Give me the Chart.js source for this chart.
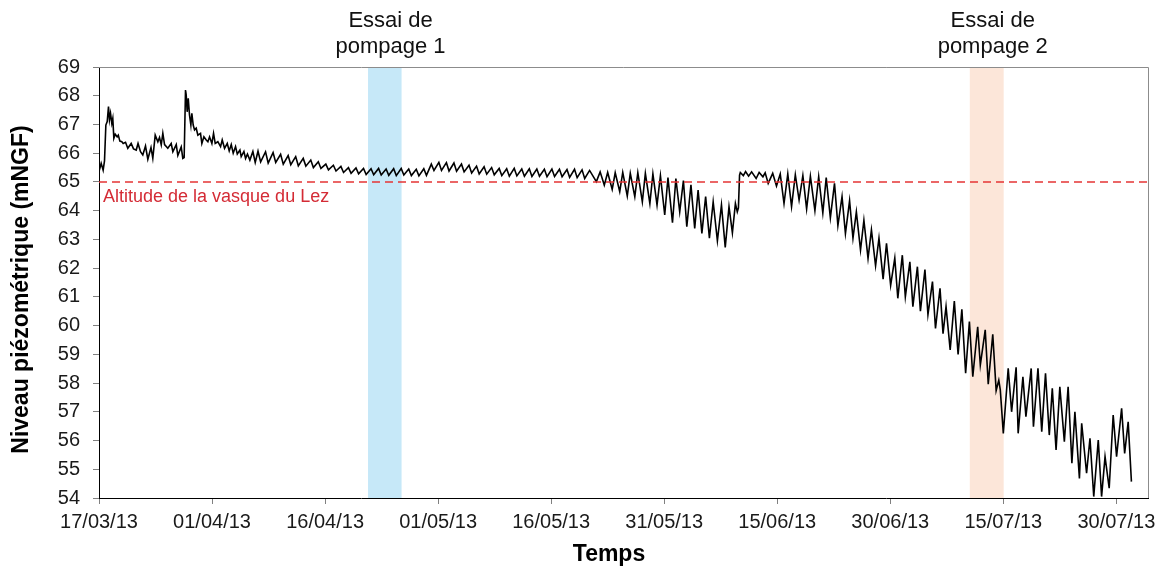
<!DOCTYPE html>
<html>
<head>
<meta charset="utf-8">
<title>Niveau piézométrique</title>
<script src="https://cdn.jsdelivr.net/npm/chart.js@4.4.1/dist/chart.umd.min.js"></script>
<style>
  html, body { margin: 0; padding: 0; background: #ffffff; }
  #wrap { width: 1159px; height: 569px; position: relative; }
</style>
</head>
<body>
<div id="wrap"><canvas id="chart" width="1159" height="569"></canvas></div>
<script>
// Time axis: days counted from 17/03/2013 00:00
const tickDays = [0, 15, 30, 45, 60, 75, 90, 105, 120, 135];
const levelTicks = [54, 55, 56, 57, 58, 59, 60, 61, 62, 63, 64, 65, 66, 67, 68, 69];

// Piezometric record (mNGF)
const sampleDay = [
  0.00, 0.29, 0.55, 0.73, 0.91, 1.09, 1.26, 1.39, 1.53, 1.70, 1.83, 1.97, 2.15, 2.41, 2.56, 2.77,
  3.03, 3.21, 3.52, 3.82, 4.27, 4.58, 4.94, 5.18, 5.51, 5.81, 6.17, 6.48, 6.90, 7.14, 7.46, 7.81,
  8.03, 8.26, 8.47, 8.70, 9.13, 9.58, 9.80, 10.25, 10.46, 10.91, 11.12, 11.30, 11.48, 11.57, 11.70, 11.84,
  12.01, 12.19, 12.32, 12.50, 12.68, 12.90, 13.12, 13.47, 13.65, 13.92, 14.23, 14.45, 14.67, 14.98, 15.20, 15.42,
  15.77, 16.13, 16.35, 16.66, 17.02, 17.28, 17.55, 17.81, 18.12, 18.35, 18.70, 18.87, 19.23, 19.45, 19.70, 20.02,
  20.42, 20.73, 21.10, 21.45, 22.10, 22.45, 23.10, 23.45, 24.10, 24.45, 25.10, 25.45, 26.10, 26.45, 27.10, 27.45,
  28.10, 28.45, 29.10, 29.45, 30.10, 30.45, 31.10, 31.45, 32.10, 32.45, 33.10, 33.45, 34.10, 34.45, 35.10, 35.45,
  36.10, 36.45, 37.10, 37.45, 38.10, 38.45, 39.10, 39.45, 40.10, 40.45, 41.10, 41.45, 42.10, 42.45, 43.10, 43.45,
  44.10, 44.45, 45.10, 45.45, 46.10, 46.45, 47.10, 47.45, 48.10, 48.45, 49.10, 49.45, 50.10, 50.45, 51.10, 51.45,
  52.10, 52.45, 53.10, 53.45, 54.10, 54.45, 55.10, 55.45, 56.10, 56.45, 57.10, 57.45, 58.10, 58.45, 59.10, 59.45,
  60.10, 60.45, 61.10, 61.45, 62.10, 62.45, 63.10, 63.45, 64.10, 64.45, 65.10, 66.00, 66.50, 67.05, 67.50, 68.10,
  68.50, 69.10, 69.50, 70.10, 70.50, 71.10, 71.50, 72.10, 72.50, 73.10, 73.50, 74.05, 74.50, 75.07, 75.50, 76.10,
  76.55, 77.06, 77.55, 78.00, 78.55, 79.05, 79.50, 80.00, 80.50, 81.00, 81.50, 82.06, 82.60, 83.10, 83.60, 84.05,
  84.45, 84.70, 84.85, 85.00, 85.10, 85.50, 85.80, 86.20, 86.60, 87.20, 87.60, 88.10, 88.40, 88.80, 89.40, 89.90,
  90.40, 90.90, 91.40, 91.90, 92.40, 92.90, 93.40, 93.90, 94.40, 95.00, 95.50, 96.05, 96.50, 97.05, 97.60, 98.05,
  98.60, 99.05, 99.60, 100.05, 100.50, 101.05, 101.50, 102.05, 102.50, 103.05, 103.50, 104.05, 104.50, 105.05, 105.60, 106.00,
  106.60, 107.00, 107.60, 108.00, 108.60, 109.00, 109.60, 110.00, 110.60, 111.00, 111.60, 112.00, 112.40, 112.95, 113.50, 114.00,
  114.50, 115.00, 115.50, 115.95, 116.60, 116.95, 117.60, 118.00, 118.60, 119.05, 119.40, 119.60, 120.00, 120.65, 121.10, 121.70,
  121.97, 122.60, 123.00, 123.70, 124.00, 124.60, 125.10, 125.60, 126.10, 126.50, 127.00, 127.50, 128.10, 128.60, 129.10, 129.50,
  130.10, 130.40, 131.05, 131.50, 132.00, 132.60, 133.04, 133.50, 134.05, 134.58, 135.03, 135.70, 136.10, 136.57, 137.00
];
const sampleLevel = [
  65.36, 65.65, 65.41, 65.73, 66.98, 67.10, 67.62, 67.16, 67.39, 67.04, 67.21, 66.52, 66.66, 66.57, 66.63, 66.42,
  66.40, 66.34, 66.38, 66.17, 66.34, 66.15, 66.11, 66.34, 66.05, 65.94, 66.25, 65.79, 66.20, 65.82, 66.63, 66.40,
  66.55, 66.29, 66.69, 66.30, 66.17, 66.34, 66.05, 66.30, 65.92, 66.22, 65.82, 65.85, 68.20, 68.03, 67.44, 67.91,
  67.33, 66.98, 67.39, 66.98, 66.81, 66.87, 66.63, 66.69, 66.34, 66.57, 66.46, 66.40, 66.57, 66.34, 66.69, 66.34,
  66.40, 66.23, 66.46, 66.17, 66.34, 66.08, 66.30, 66.00, 66.23, 65.97, 66.11, 65.88, 66.06, 65.82, 65.97, 65.76,
  66.06, 65.68, 66.07, 65.70, 66.05, 65.66, 66.02, 65.68, 65.96, 65.62, 65.92, 65.60, 65.88, 65.56, 65.82, 65.55,
  65.76, 65.50, 65.70, 65.47, 65.62, 65.42, 65.58, 65.38, 65.54, 65.33, 65.50, 65.30, 65.49, 65.28, 65.47, 65.26,
  65.46, 65.25, 65.47, 65.24, 65.45, 65.23, 65.46, 65.22, 65.47, 65.24, 65.45, 65.22, 65.44, 65.21, 65.46, 65.23,
  65.62, 65.40, 65.68, 65.40, 65.67, 65.38, 65.66, 65.37, 65.62, 65.35, 65.58, 65.31, 65.55, 65.28, 65.53, 65.27,
  65.50, 65.25, 65.47, 65.22, 65.46, 65.20, 65.47, 65.21, 65.45, 65.20, 65.46, 65.19, 65.45, 65.20, 65.44, 65.18,
  65.45, 65.19, 65.44, 65.18, 65.43, 65.16, 65.44, 65.15, 65.42, 65.12, 65.40, 65.01, 65.35, 64.89, 65.33, 64.74,
  65.32, 64.66, 65.33, 64.51, 65.30, 64.49, 65.32, 64.31, 65.30, 64.25, 65.28, 64.20, 65.22, 63.85, 65.15, 63.58,
  65.12, 63.96, 65.05, 63.44, 64.90, 63.38, 64.72, 63.21, 64.49, 63.04, 64.31, 62.95, 64.20, 62.72, 64.14, 63.23,
  64.25, 63.96, 64.10, 65.24, 65.33, 65.22, 65.36, 65.20, 65.35, 65.12, 65.33, 65.18, 65.32, 64.95, 65.30, 64.86,
  65.28, 64.25, 65.28, 64.14, 65.25, 64.37, 65.22, 64.06, 65.20, 64.00, 65.18, 63.92, 65.15, 63.75, 64.95, 63.48,
  64.49, 63.20, 64.35, 63.04, 63.96, 62.63, 63.67, 62.34, 63.33, 62.08, 63.04, 61.62, 62.86, 61.40, 62.35, 60.95,
  62.45, 61.00, 62.22, 60.66, 62.05, 60.50, 61.95, 60.38, 61.53, 59.90, 61.30, 59.72, 60.66, 59.15, 60.85, 59.00,
  60.57, 58.34, 60.14, 58.22, 59.96, 58.63, 59.85, 57.96, 59.70, 57.74, 58.10, 57.76, 56.25, 58.51, 57.00, 58.55,
  56.25, 58.22, 56.83, 58.51, 56.48, 58.51, 56.31, 58.34, 56.19, 57.82, 55.67, 57.87, 55.96, 57.87, 55.21, 57.00,
  54.68, 56.60, 54.86, 56.08, 54.05, 56.02, 54.05, 55.44, 54.34, 56.89, 55.44, 57.12, 55.55, 56.65, 54.57
];

// Reference altitude of the Lez spring basin (mNGF)
const vasqueLevel = 65;
const vasqueLabel = 'Altitude de la vasque du Lez';

// Pumping tests: start / end in days
const testNames = [['Essai de', 'pompage 1'], ['Essai de', 'pompage 2']];
const testStart = [35.70, 115.55];
const testEnd = [40.15, 120.05];
const testColors = ['#c6e8f8', '#fce6d9'];

const xTitle = 'Temps';
const yTitle = 'Niveau piézométrique (mNGF)';

const FONT = '"Liberation Sans", Arial, sans-serif';
const X_MIN = 0;
const X_MAX = 139.2;
const startDate = new Date(2013, 2, 17);

function formatDay(v) {
  const d = new Date(startDate.getFullYear(), startDate.getMonth(), startDate.getDate() + Math.round(v));
  const p = n => String(n).padStart(2, '0');
  return p(d.getDate()) + '/' + p(d.getMonth() + 1) + '/' + p(d.getFullYear() % 100);
}

// Shaded pumping periods behind the axes and the curve, plus captions
const bandsPlugin = {
  id: 'bands',
  beforeDraw(chart) {
    const { ctx, chartArea, scales } = chart;
    ctx.save();
    testStart.forEach((s, i) => {
      const x0 = scales.x.getPixelForValue(s);
      const x1 = scales.x.getPixelForValue(testEnd[i]);
      ctx.fillStyle = testColors[i];
      ctx.fillRect(x0, chartArea.top, x1 - x0, chartArea.bottom - chartArea.top);
    });
    ctx.restore();
  },
  afterDraw(chart) {
    const { ctx, chartArea, scales } = chart;
    ctx.save();
    // frame on the top and right edges
    ctx.strokeStyle = '#8c8c8c';
    ctx.lineWidth = 1;
    ctx.beginPath();
    ctx.moveTo(Math.round(chartArea.left), Math.round(chartArea.top) + 0.5);
    ctx.lineTo(Math.round(chartArea.right) + 0.5, Math.round(chartArea.top) + 0.5);
    ctx.lineTo(Math.round(chartArea.right) + 0.5, Math.round(chartArea.bottom));
    ctx.stroke();

    // reference line caption
    const yRef = scales.y.getPixelForValue(vasqueLevel);
    ctx.fillStyle = '#d42b35';
    ctx.font = '18px ' + FONT;
    ctx.textAlign = 'left';
    ctx.textBaseline = 'middle';
    ctx.fillText(vasqueLabel, chartArea.left + 4, yRef + 15);

    // pumping test captions above the plot
    ctx.fillStyle = '#111111';
    ctx.font = '22px ' + FONT;
    ctx.textAlign = 'center';
    testNames.forEach((lines, i) => {
      const xc = scales.x.getPixelForValue(testEnd[i]) - 11;
      lines.forEach((t, k) => ctx.fillText(t, xc, 21 + k * 26));
    });

    // axis titles
    ctx.fillStyle = '#000000';
    ctx.font = 'bold 23px ' + FONT;
    ctx.fillText(xTitle, 609, 555);
    ctx.translate(22, (chartArea.top + chartArea.bottom) / 2 + 7);
    ctx.rotate(-Math.PI / 2);
    ctx.fillText(yTitle, 0, 0);
    ctx.restore();
  }
};

new Chart(document.getElementById('chart').getContext('2d'), {
  type: 'line',
  data: {
    datasets: [
      {
        label: vasqueLabel,
        data: [{ x: X_MIN, y: vasqueLevel }, { x: X_MAX, y: vasqueLevel }],
        borderColor: '#e53535',
        borderWidth: 1.5,
        borderDash: [8, 5],
        pointRadius: 0
      },
      {
        label: 'Niveau piézométrique',
        data: sampleDay.map((d, i) => ({ x: d, y: sampleLevel[i] })),
        borderColor: '#000000',
        borderWidth: 1.6,
        pointRadius: 0,
        tension: 0
      }
    ]
  },
  options: {
    responsive: false,
    animation: false,
    devicePixelRatio: 1,
    layout: { padding: { top: 67, right: 11, bottom: 0, left: 0 } },
    plugins: { legend: { display: false }, tooltip: { enabled: false } },
    scales: {
      x: {
        type: 'linear',
        min: X_MIN,
        max: X_MAX,
        afterBuildTicks: s => { s.ticks = tickDays.map(v => ({ value: v })); },
        afterFit: s => { s.height = 71; s.paddingLeft = 0; s.paddingRight = 0; },
        ticks: {
          callback: v => formatDay(v),
          font: { size: 20, family: FONT },
          color: '#1a1a1a',
          padding: 6,
          maxRotation: 0,
          autoSkip: false
        },
        grid: { drawOnChartArea: false, drawTicks: true, tickLength: 6, color: '#808080' },
        border: { color: '#000000', width: 1 }
      },
      y: {
        min: 54,
        max: 69,
        afterBuildTicks: s => { s.ticks = levelTicks.map(v => ({ value: v })); },
        afterFit: s => { s.width = 99; s.paddingTop = 0; s.paddingBottom = 0; },
        ticks: {
          font: { size: 20, family: FONT },
          color: '#1a1a1a',
          padding: 13
        },
        grid: { drawOnChartArea: false, drawTicks: true, tickLength: 6, color: '#808080' },
        border: { color: '#000000', width: 1 }
      }
    }
  },
  plugins: [bandsPlugin]
});
</script>
</body>
</html>
